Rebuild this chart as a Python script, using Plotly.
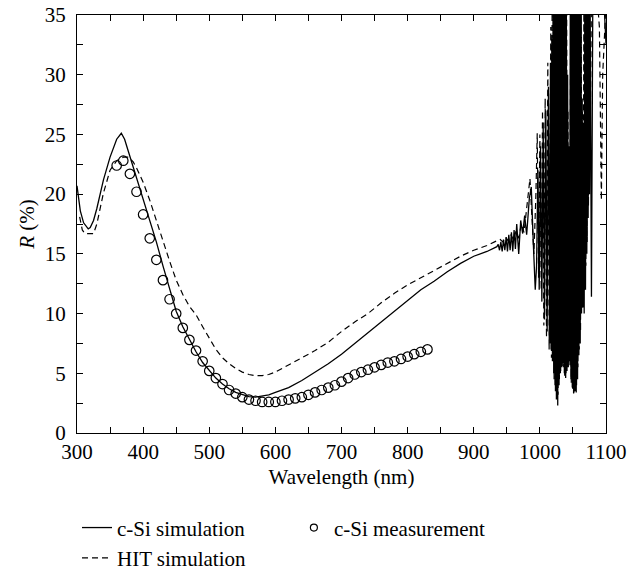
import plotly.graph_objects as go

# ---- c-Si simulation (solid) ----
sim_x = [300, 305, 310, 317, 320, 325, 330, 335, 340, 350, 360, 367, 372, 377, 385, 390,
         400, 410, 420, 430, 440, 450, 460, 470, 480, 490, 500, 510, 520, 530, 540, 550,
         560, 570, 580, 590, 600, 620, 640, 660, 680, 700, 720, 740, 760, 780, 800, 820,
         840, 860, 880, 900, 920, 935,
         937, 939, 941, 943, 945, 947, 949, 951, 953, 955, 957, 959, 961, 963, 965, 968,
         971, 974, 977, 980, 984, 987, 990, 993,
         995, 997, 999, 1001, 1003, 1005, 1007, 1009, 1011, 1013, 1015, 1016,
         1017, 1018, 1019, 1020, 1021, 1022, 1023, 1024, 1025, 1026,
         1027, 1028, 1029, 1030, 1031, 1032, 1033, 1034, 1035, 1036,
         1037, 1038, 1039, 1040, 1041, 1042, 1043, 1044, 1045, 1046,
         1047, 1048, 1049, 1050, 1051, 1052, 1053, 1054, 1055, 1056,
         1057, 1058, 1059, 1060, 1061, 1062, 1063, 1064, 1065, 1066,
         1067, 1068, 1069, 1070, 1071, 1072, 1073, 1074, 1075, 1076,
         1078, 1080, 1082, 1090, 1097, 1100]
sim_y = [20.7, 18.6, 17.6, 17.1, 17.2, 17.8, 18.8, 20.1, 21.2, 23.1, 24.6, 25.1, 24.6, 23.7, 22.3, 21.4,
         19.6, 17.8, 16.0, 14.0, 12.0, 10.2, 8.9, 7.8, 6.8, 5.9, 5.2, 4.6, 4.1, 3.7, 3.4, 3.2,
         3.05, 3.0, 3.1, 3.2, 3.4, 3.8, 4.4, 5.1, 5.8, 6.6, 7.5, 8.4, 9.3, 10.2, 11.1, 12.0,
         12.7, 13.5, 14.2, 14.8, 15.2, 15.6,
         15.8, 15.3, 16.0, 15.2, 16.2, 15.3, 16.4, 15.2, 16.6, 15.3, 16.8, 15.2, 17.0, 15.4, 17.5, 15.0,
         17.8, 16.7, 18.2, 16.6, 19.6, 20.6, 16.0, 12.0,
         14.0, 22.0, 12.0, 24.0, 11.0, 26.0, 9.5, 27.0, 8.5, 29.0, 7.5, 31.0,
         7.0, 33.0, 6.0, 36.0, 5.0, 36.0, 4.0, 36.0, 2.8, 36.0,
         2.3, 36.0, 4.0, 36.0, 5.0, 36.0, 5.5, 36.0, 5.8, 36.0,
         5.0, 36.0, 4.6, 36.0, 5.2, 30.0, 5.5, 24.0, 6.0, 36.0,
         4.5, 36.0, 3.8, 36.0, 3.3, 36.0, 3.5, 36.0, 3.4, 36.0,
         4.5, 36.0, 6.5, 36.0, 7.5, 36.0, 10.0, 28.0, 10.5, 26.0,
         10.0, 36.0, 12.0, 36.0, 15.0, 36.0, 18.0, 36.0, 20.0, 36.0,
         11.4, 36.0, 37.0, 38.0, 36.0, 32.6]

# ---- HIT simulation (dashed) ----
hit_x = [304, 308, 312, 325, 330, 335, 340, 350, 360, 370, 378, 385, 390, 400, 410, 420,
         430, 440, 450, 460, 470, 480, 490, 500, 510, 520, 530, 540, 550, 560, 570, 580,
         590, 600, 620, 640, 660, 680, 700, 720, 740, 760, 780, 800, 820, 840, 860, 880,
         900, 920, 935,
         940, 944, 948, 952, 956, 960, 964, 968, 972, 976, 980, 982, 985, 988, 991, 994,
         996, 998, 1000, 1002, 1004, 1006, 1008, 1010, 1012, 1014,
         1016.5, 1017.5, 1018.5, 1019.5, 1020.5, 1021.5, 1022.5, 1023.5, 1024.5, 1025.5,
         1026.5, 1027.5, 1028.5, 1029.5, 1030.5, 1031.5, 1032.5, 1033.5, 1034.5, 1035.5,
         1036.5, 1037.5, 1038.5, 1039.5, 1040.5, 1041.5, 1042.5, 1043.5, 1044.5, 1045.5,
         1046.5, 1047.5, 1048.5, 1049.5, 1050.5, 1051.5, 1052.5, 1053.5, 1054.5, 1055.5,
         1056.5, 1057.5, 1058.5, 1059.5, 1060.5, 1061.5, 1062.5, 1063.5, 1064.5, 1065.5,
         1066.5, 1067.5, 1068.5, 1069.5, 1070.5, 1071.5, 1072.5, 1073.5, 1074.5, 1075.5,
         1078, 1081, 1086, 1090, 1093, 1095, 1098, 1100]
hit_y = [18.1, 17.0, 16.7, 16.7, 17.5, 18.8, 20.1, 22.0, 22.8, 23.1, 23.1, 22.7, 22.2, 21.0, 19.5, 17.8,
         16.0, 14.4, 12.8, 11.6, 10.6, 9.9, 8.9, 7.9, 7.0, 6.3, 5.8, 5.4, 5.1, 4.9, 4.8, 4.8,
         4.9, 5.1, 5.7, 6.3, 6.9, 7.6, 8.5, 9.3, 10.0, 10.9, 11.7, 12.4, 13.0, 13.6, 14.2, 14.8,
         15.3, 15.7, 16.1,
         16.2, 16.0, 16.4, 16.1, 16.6, 16.2, 16.9, 16.3, 17.5, 16.8, 18.6, 19.5, 21.3, 18.0, 15.0, 20.0,
         25.1, 13.0, 25.0, 12.0, 27.0, 9.0, 28.0, 8.0, 31.0, 7.0,
         34.0, 6.3, 36.0, 6.0, 36.0, 4.5, 36.0, 3.5, 36.0, 3.0,
         36.0, 3.2, 36.0, 4.5, 36.0, 5.2, 36.0, 5.6, 36.0, 5.5,
         36.0, 4.8, 36.0, 5.0, 36.0, 5.8, 27.0, 6.5, 23.0, 5.5,
         36.0, 4.2, 36.0, 3.6, 36.0, 3.4, 36.0, 3.8, 36.0, 4.0,
         36.0, 5.5, 36.0, 7.0, 36.0, 8.5, 36.0, 10.5, 27.0, 11.0,
         36.0, 12.0, 36.0, 14.0, 36.0, 16.0, 36.0, 19.0, 36.0, 22.0,
         36.0, 37.0, 37.0, 34.0, 19.5, 30.0, 35.0, 36.0]

# ---- c-Si measurement (open circles) ----
meas_x = list(range(360, 831, 10))
meas_y = [22.4, 22.8, 21.7, 20.2, 18.3, 16.3, 14.5, 12.8, 11.2, 10.0, 8.8, 7.8, 6.9, 6.0,
          5.2, 4.6, 4.1, 3.6, 3.3, 3.0, 2.8, 2.7, 2.6, 2.6, 2.6, 2.7, 2.8, 2.9, 3.0, 3.2,
          3.4, 3.6, 3.8, 4.0, 4.3, 4.6, 4.9, 5.1, 5.3, 5.5, 5.7, 5.9, 6.0, 6.2, 6.4, 6.6,
          6.8, 7.0]

x_ticks = [300, 400, 500, 600, 700, 800, 900, 1000, 1100]
y_ticks = [0, 5, 10, 15, 20, 25, 30, 35]

FONT = "Liberation Serif, Times New Roman, serif"
FS = 21

fig = go.Figure()
fig.add_trace(go.Scatter(x=sim_x, y=sim_y, mode="lines", name="c-Si simulation",
                         legend="legend", legendgroup="a",
                         line=dict(color="black", width=1.3)))
fig.add_trace(go.Scatter(x=hit_x, y=hit_y, mode="lines", name="HIT simulation",
                         legend="legend", legendgroup="b",
                         line=dict(color="black", width=1.2, dash="6px,4px")))
fig.add_trace(go.Scatter(x=meas_x, y=meas_y, mode="markers", name="c-Si measurement",
                         showlegend=False,
                         marker=dict(symbol="circle-open", size=9.5, color="black",
                                     line=dict(width=1.2, color="black"))))
# legend sample for the measurement (smaller symbol, as in the reference legend)
fig.add_trace(go.Scatter(x=[None], y=[None], mode="markers", name="c-Si measurement",
                         legend="legend2",
                         marker=dict(symbol="circle-open", size=7, color="black",
                                     line=dict(width=1.2, color="black"))))

axis_common = dict(showline=True, linecolor="black", linewidth=1, mirror="allticks",
                   ticks="inside", ticklen=6, tickcolor="black", showgrid=False,
                   zeroline=False, ticklabeloverflow="allow",
                   tickfont=dict(family=FONT, size=FS, color="black"))

fig.update_xaxes(range=[300, 1100], tickvals=x_ticks, ticklabelstandoff=0,
                 minor=dict(ticks="inside", dtick=50, ticklen=6, tickcolor="black", showgrid=False),
                 title=dict(text="Wavelength (nm)", font=dict(family=FONT, size=FS, color="black"),
                            standoff=6),
                 **axis_common)
fig.update_yaxes(range=[0, 35], tickvals=y_ticks, ticklabelstandoff=6,
                 minor=dict(ticks="inside", dtick=2.5, ticklen=6, tickcolor="black", showgrid=False),
                 title=dict(text="<i>R</i> (%)", font=dict(family=FONT, size=FS, color="black"),
                            standoff=4),
                 **axis_common)

legend_common = dict(orientation="v", xanchor="left", yanchor="top",
                     font=dict(family=FONT, size=FS, color="black"),
                     bgcolor="rgba(0,0,0,0)", tracegroupgap=0)

fig.update_layout(
    width=642, height=570,
    margin=dict(l=69, r=44, t=7, b=145, autoexpand=False),
    plot_bgcolor="white", paper_bgcolor="white",
    font=dict(family=FONT, size=FS, color="black"),
    legend=dict(x=0.0, y=-0.178, **legend_common),
    legend2=dict(x=0.41, y=-0.178, **legend_common),
)

fig.write_html("out.html")
